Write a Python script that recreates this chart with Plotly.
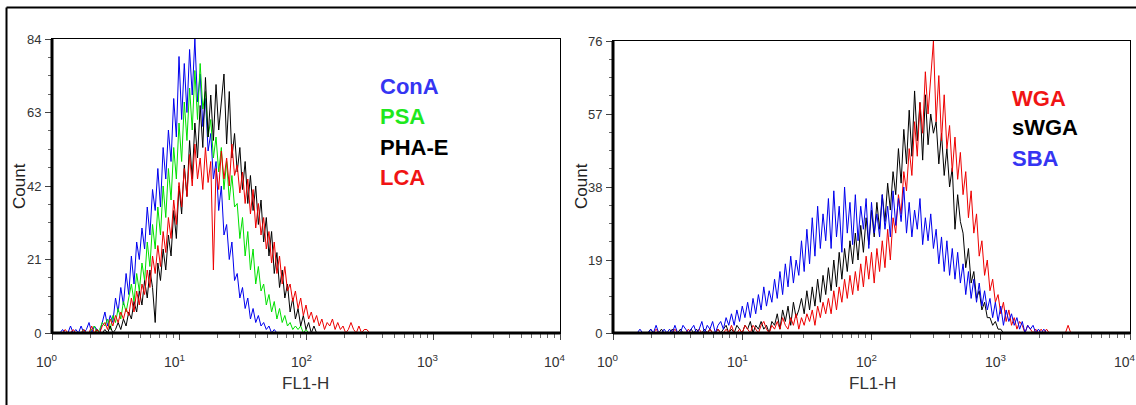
import numpy as np
import plotly.graph_objects as go

# ---------------- data (counts per FL1-H channel bin, 48 bins per decade) ----------------
BINS_PER_DECADE = 48

conA = [0, 0, 0, 0, 1, 0, 0, 2, 0, 1,
        0, 2, 0, 1, 3, 0, 2, 1, 0, 3,
        6, 2, 5, 3, 10, 6, 13, 8, 17, 11,
        22, 14, 26, 21, 30, 24, 36, 28, 41, 35,
        47, 36, 53, 44, 58, 49, 67, 56, 79, 61,
        77, 63, 81, 68, 84, 66, 74, 59, 67, 52,
        57, 44, 49, 35, 42, 28, 31, 21, 26, 15,
        17, 10, 13, 7, 10, 4, 7, 3, 5, 2,
        3, 1, 2, 0, 1, 0, 0, 0]

psa = [0, 0, 0, 0, 0, 0, 0, 0, 0, 0,
       0, 0, 1, 0, 0, 1, 2, 0, 1, 3,
       2, 4, 1, 5, 3, 7, 4, 9, 6, 10,
       14, 9, 17, 12, 20, 15, 26, 19, 31, 24,
       36, 28, 42, 33, 47, 38, 53, 44, 60, 49,
       66, 55, 70, 58, 75, 61, 77, 64, 69, 56,
       61, 50, 56, 46, 53, 41, 49, 38, 45, 36,
       37, 27, 33, 22, 29, 18, 24, 14, 19, 12,
       14, 8, 11, 6, 9, 4, 7, 3, 5, 2,
       3, 1, 2, 1, 2, 0, 1, 0]

phaE = [0, 0, 0, 0, 0, 0, 0, 0, 0, 0,
        0, 0, 0, 0, 0, 0, 0, 1, 0, 0,
        1, 0, 2, 0, 1, 3, 1, 4, 2, 6,
        4, 9, 6, 12, 8, 15, 10, 18, 13, 3,
        20, 15, 24, 18, 28, 22, 35, 27, 42, 34,
        48, 39, 55, 44, 60, 50, 65, 53, 73, 56,
        68, 55, 71, 58, 66, 74, 54, 69, 50, 57,
        46, 53, 41, 49, 37, 45, 35, 42, 31, 38,
        26, 33, 22, 29, 17, 23, 13, 18, 10, 14,
        6, 10, 4, 7, 2, 5, 1, 3, 0, 2, 0, 0]

lca = [0, 0, 0, 0, 0, 1, 0, 0, 1, 0,
       0, 0, 1, 0, 0, 2, 0, 1, 0, 2,
       3, 1, 4, 2, 5, 3, 6, 4, 7, 5,
       10, 6, 12, 8, 14, 11, 18, 13, 22, 17,
       25, 19, 29, 23, 33, 27, 38, 31, 43, 36,
       47, 39, 51, 42, 54, 44, 50, 41, 53, 43,
       49, 18, 47, 41, 52, 44, 50, 42, 54, 45,
       48, 40, 46, 37, 44, 34, 41, 30, 37, 28,
       33, 24, 29, 20, 26, 17, 22, 14, 19, 12,
       14, 9, 12, 7, 10, 5, 8, 4, 6, 3,
       5, 2, 4, 1, 3, 2, 4, 1, 3, 1,
       2, 0, 1, 3, 1, 0, 2, 0, 1, 1, 0]

wga = [0, 0, 0, 0, 0, 0, 0, 0, 0, 0,
       0, 0, 0, 0, 0, 0, 1, 0, 0, 0,
       0, 0, 0, 1, 0, 0, 0, 0, 1, 0,
       0, 0, 1, 0, 0, 0, 1, 0, 0, 1,
       0, 0, 1, 0, 2, 0, 0, 1, 0, 2,
       1, 0, 2, 1, 0, 2, 3, 1, 0, 2,
       1, 3, 1, 4, 2, 1, 4, 2, 5, 1,
       4, 2, 5, 3, 6, 2, 7, 4, 8, 5,
       9, 5, 11, 6, 12, 8, 14, 9, 15, 10,
       16, 11, 18, 12, 20, 14, 21, 13, 22, 16,
       24, 17, 27, 19, 30, 26, 36, 31, 42, 37,
       48, 41, 55, 46, 60, 52, 68, 57, 66, 76,
       55, 67, 50, 62, 48, 54, 42, 51, 40, 47,
       36, 42, 30, 37, 26, 31, 20, 24, 15, 19,
       11, 14, 8, 10, 5, 8, 3, 6, 2, 4,
       1, 3, 2, 0, 2, 1, 0, 1, 0, 1,
       0, 1, 0, 0, 0, 0, 0, 0, 0, 2, 0]

swga = [0, 0, 0, 0, 0, 0, 0, 0, 0, 0,
        0, 0, 0, 0, 1, 0, 0, 0, 1, 0,
        0, 0, 1, 0, 0, 1, 0, 0, 0, 1,
        0, 1, 0, 0, 1, 0, 1, 0, 0, 1,
        0, 1, 2, 0, 1, 0, 2, 1, 0, 2,
        1, 3, 0, 2, 1, 3, 1, 2, 0, 3,
        2, 5, 1, 6, 3, 7, 2, 8, 4, 6,
        9, 5, 11, 6, 12, 7, 14, 8, 15, 10,
        17, 11, 19, 12, 21, 14, 22, 16, 24, 18,
        26, 19, 28, 21, 30, 23, 32, 25, 34, 27,
        36, 29, 39, 32, 42, 36, 48, 39, 53, 44,
        58, 46, 63, 50, 60, 45, 62, 49, 57, 52,
        55, 44, 52, 41, 48, 38, 43, 27, 36, 29,
        26, 17, 22, 13, 16, 9, 11, 6, 8, 4,
        4, 2, 3, 1, 1, 0, 0]

sba = [0, 0, 0, 0, 0, 0, 0, 0, 0, 0,
       1, 0, 0, 0, 1, 0, 2, 0, 0, 1,
       0, 1, 0, 2, 0, 0, 2, 1, 0, 1,
       2, 0, 1, 3, 0, 2, 1, 3, 0, 2,
       3, 1, 4, 2, 5, 2, 6, 3, 7, 4,
       8, 4, 9, 5, 10, 6, 12, 7, 11, 8,
       14, 9, 16, 10, 18, 12, 20, 13, 19, 15,
       24, 16, 27, 18, 30, 20, 33, 22, 31, 24,
       35, 22, 37, 25, 33, 21, 38, 26, 34, 23,
       36, 24, 33, 27, 35, 22, 34, 26, 31, 25,
       36, 27, 33, 25, 37, 28, 35, 29, 38, 26,
       34, 25, 32, 27, 35, 23, 30, 24, 31, 22,
       27, 18, 25, 16, 24, 15, 22, 14, 21, 13,
       18, 10, 16, 9, 14, 8, 13, 7, 11, 6,
       9, 4, 8, 3, 7, 2, 6, 3, 5, 2,
       4, 1, 3, 0, 2, 1, 2, 0, 1, 0, 1, 0, 0]

left_series = [("ConA", conA, "#0000ee"), ("PSA", psa, "#00e000"),
               ("PHA-E", phaE, "#000000"), ("LCA", lca, "#ee0000")]
right_series = [("sWGA", swga, "#000000"), ("WGA", wga, "#ee0000"),
                ("SBA", sba, "#0000ee")]

left_legend = [("ConA", "#3535f2"), ("PSA", "#1ee81e"), ("PHA-E", "#000000"), ("LCA", "#f01414")]
right_legend = [("WGA", "#f01414"), ("sWGA", "#000000"), ("SBA", "#3535f2")]

left_y_ticks = [0, 21, 42, 63, 84]
right_y_ticks = [0, 19, 38, 57, 76]
x_tick_vals = [1, 10, 100, 1000, 10000]
x_tick_text = ["10<sup>0</sup>", "10<sup>1</sup>", "10<sup>2</sup>", "10<sup>3</sup>", "10<sup>4</sup>"]


def fl1_values(counts):
    channel = np.arange(len(counts))
    return 10 ** (channel / BINS_PER_DECADE)


# ---------------- figure ----------------
W, H = 1136, 405


def px(x):
    return x / W


def py(y):
    return 1 - y / H


fig = go.Figure()
for name, vals, col in left_series:
    fig.add_trace(go.Scatter(x=fl1_values(vals), y=vals, mode="lines", name=name,
                             line=dict(color=col, width=1), xaxis="x", yaxis="y"))
for name, vals, col in right_series:
    fig.add_trace(go.Scatter(x=fl1_values(vals), y=vals, mode="lines", name=name,
                             line=dict(color=col, width=1), xaxis="x2", yaxis="y2"))

tick_font = dict(family="Liberation Sans Narrow, Arial Narrow, Liberation Sans, Arial", size=13, color="#333333")

xcommon = dict(type="log", range=[0, 4], tickvals=x_tick_vals, showticklabels=False,
               ticks="outside", ticklen=6, tickcolor="#444", showgrid=False, zeroline=False,
               showline=True, linecolor="black", linewidth=1, mirror=True, automargin=False,
               minor=dict(ticks="outside", ticklen=4, dtick="D1", tickcolor="#666", showgrid=False))
ycommon = dict(ticks="outside", ticklen=6, tickcolor="#444", showgrid=False, zeroline=False,
               showline=True, linecolor="black", linewidth=1, mirror=True, automargin=False,
               tickfont=tick_font, ticklabelstandoff=1)

fig.update_layout(
    width=W, height=H, margin=dict(l=0, r=0, t=0, b=0, autoexpand=False),
    paper_bgcolor="white", plot_bgcolor="white", showlegend=False,
    xaxis=dict(domain=[px(52), px(560)], anchor="y", **xcommon),
    yaxis=dict(domain=[py(333), py(39)], anchor="x", range=[0, 84], tickvals=left_y_ticks,
               minor=dict(ticks="outside", ticklen=3, dtick=5.25, tickcolor="#666", showgrid=False),
               **ycommon),
    xaxis2=dict(domain=[px(613), px(1130)], anchor="y2", **xcommon),
    yaxis2=dict(domain=[py(333), py(41)], anchor="x2", range=[0, 76], tickvals=right_y_ticks,
                minor=dict(ticks="outside", ticklen=3, dtick=4.75, tickcolor="#666", showgrid=False),
                **ycommon),
)

# thick left & bottom axis lines
shapes = []
for xa, ya in [("x", "y"), ("x2", "y2")]:
    shapes.append(dict(type="line", xref=f"{xa} domain", yref=f"{ya} domain",
                       x0=0, x1=0, y0=0, y1=1, line=dict(color="black", width=3)))
    shapes.append(dict(type="line", xref=f"{xa} domain", yref=f"{ya} domain",
                       x0=0, x1=1, y0=0, y1=0, line=dict(color="black", width=3)))
# outer frame (left and top edges)
shapes.append(dict(type="line", xref="paper", yref="paper", x0=px(6.5), x1=px(6.5),
                   y0=0, y1=py(7.5), line=dict(color="black", width=2)))
shapes.append(dict(type="line", xref="paper", yref="paper", x0=px(6.5), x1=1,
                   y0=py(7.5), y1=py(7.5), line=dict(color="black", width=2)))
fig.update_layout(shapes=shapes)

ann = []
# x tick labels (base sits left of the tick, exponent just right of it)
for xa in ("x", "x2"):
    for v, t in zip(x_tick_vals, x_tick_text):
        ann.append(dict(text=t, x=np.log10(v), xref=xa, y=py(361), yref="paper",
                        xanchor="center", yanchor="middle", xshift=-5, showarrow=False,
                        font=dict(tick_font, size=14)))
for k, (txt, col) in enumerate(left_legend):
    ann.append(dict(text=f"<b>{txt}</b>", x=px(378), y=py(87 + 30 * k), xref="paper", yref="paper",
                    xanchor="left", yanchor="middle", showarrow=False,
                    font=dict(family="Liberation Sans, Arial", size=22, color=col)))
for k, (txt, col) in enumerate(right_legend):
    ann.append(dict(text=f"<b>{txt}</b>", x=px(1010), y=py(98 + 30 * k), xref="paper", yref="paper",
                    xanchor="left", yanchor="middle", showarrow=False,
                    font=dict(family="Liberation Sans, Arial", size=22, color=col)))
title_font = dict(family="Liberation Sans Narrow, Arial Narrow, Liberation Sans, Arial", size=17, color="#333333")
for cx in (306, 872):
    ann.append(dict(text="FL1-H", x=px(cx), y=py(383), xref="paper", yref="paper",
                    xanchor="center", yanchor="middle", showarrow=False, font=title_font))
for cx in (19, 581):
    ann.append(dict(text="Count", x=px(cx), y=py(186), xref="paper", yref="paper",
                    xanchor="center", yanchor="middle", showarrow=False, textangle=-90,
                    font=dict(family="Liberation Sans, Arial", size=17, color="#222222")))
fig.update_layout(annotations=ann)

fig.write_html("out.html", config={"displayModeBar": False},
               post_script="document.body.style.margin='0px';")
